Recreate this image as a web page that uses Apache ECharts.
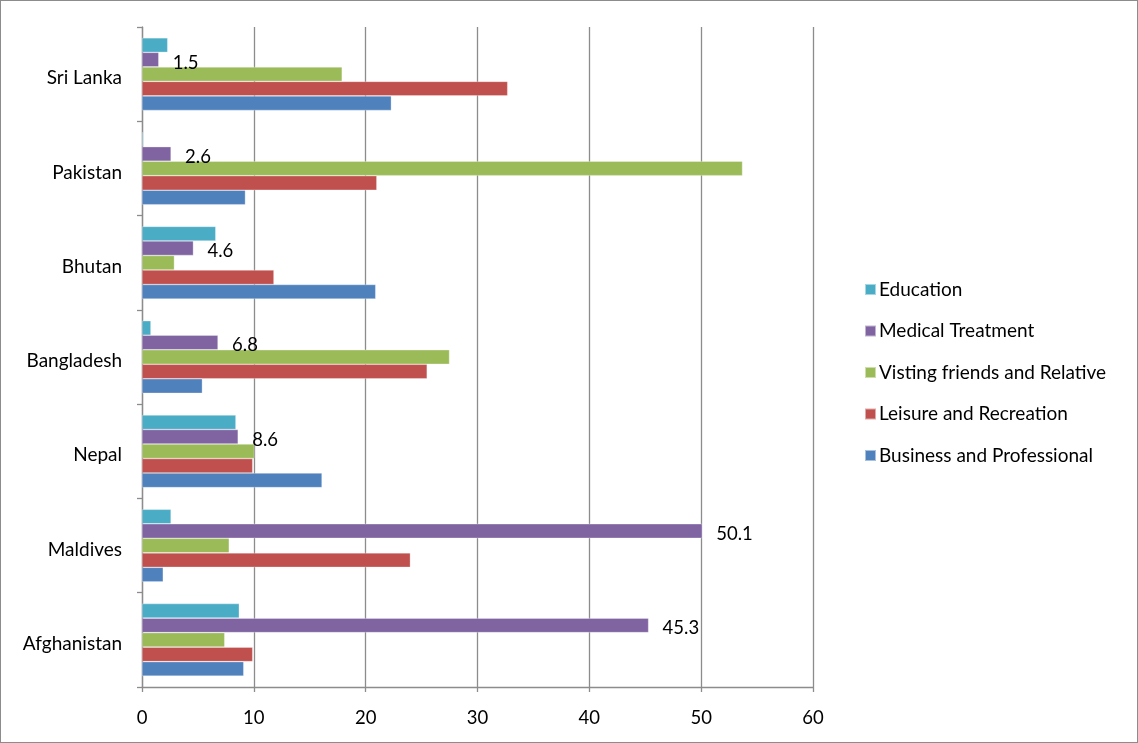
<!DOCTYPE html>
<html><head><meta charset="utf-8">
<script src="https://cdn.jsdelivr.net/npm/echarts@6/dist/echarts.min.js"></script>
<style>
html,body{margin:0;padding:0;background:#fff;}
#c{width:1136px;height:741px;border:1px solid #8c8c8c;}
</style></head>
<body><div id="c"></div>
<script>
const categories = ['Afghanistan','Maldives','Nepal','Bangladesh','Bhutan','Pakistan','Sri Lanka'];
const seriesNames = ['Education','Medical Treatment','Visting friends and Relative','Leisure and Recreation','Business and Professional'];
const education = [8.7, 2.6, 8.4, 0.8, 6.6, 0.1, 2.3];
const medical   = [45.3, 50.1, 8.6, 6.8, 4.6, 2.6, 1.5];
const visiting  = [7.4, 7.8, 10.05, 27.5, 2.9, 53.7, 17.9];
const leisure   = [9.9, 24.0, 9.9, 25.5, 11.8, 21.0, 32.7];
const business  = [9.1, 1.9, 16.1, 5.4, 20.9, 9.25, 22.3];
const xTicks = [0,10,20,30,40,50,60];

const colors = ['#4BACC6','#8064A2','#9BBB59','#C0504D','#4F81BD'];
const values = [education, medical, visiting, leisure, business];
const FONT = 'Lato';

const chart = echarts.init(document.getElementById('c'));
const series = values.map((v,i)=>({
  name: seriesNames[i],
  type: 'bar',
  data: v,
  barGap: '0%',
  barCategoryGap: '23%',
  itemStyle: {color: colors[i], borderColor: 'rgba(255,255,255,0.5)', borderWidth: 0.6},
  label: i===1 ? {show:true, position:'right', distance:14, color:'#000', fontSize:18.5, fontFamily:FONT,
     formatter: p => '{a|' + p.value.toFixed(1) + '}',
     rich:{a:{fontSize:18.5, fontFamily:FONT, color:'#000', padding:[6,0,0,0]}}} : {show:false},
  emphasis:{disabled:true}
}));
chart.setOption({
  animation:false,
  textStyle:{fontFamily:FONT},
  color: colors,
  grid:{left:141, right:324, top:26, bottom:55, containLabel:false},
  xAxis:{type:'value', min:0, max:60, interval:10,
    axisLine:{show:true, lineStyle:{color:'#8c8c8c', width:1.3}},
    axisTick:{show:true, length:5, lineStyle:{color:'#8c8c8c', width:1.3}},
    axisLabel:{color:'#000', fontSize:18.5, margin:22, fontFamily:FONT,
      formatter: v => xTicks.indexOf(v) >= 0 ? String(v) : ''},
    splitLine:{show:true, lineStyle:{color:'#8c8c8c', width:1.3}}},
  yAxis:{type:'category', data:categories, boundaryGap:true,
    axisLine:{show:true, lineStyle:{color:'#8c8c8c', width:1.3}},
    axisTick:{show:true, length:5, alignWithLabel:false, lineStyle:{color:'#8c8c8c', width:1.3}},
    axisLabel:{color:'#000', fontSize:19, margin:20, fontFamily:FONT,
      formatter: v => '{a|' + v + '}',
      rich:{a:{fontSize:19, fontFamily:FONT, color:'#000', padding:[8,0,0,0]}}}},
  legend:{orient:'vertical', left:858, top:274, itemGap:22.5, itemWidth:11, itemHeight:11,
    icon:'rect', data: seriesNames.slice(),
    textStyle:{color:'#000', fontSize:19, fontFamily:FONT, padding:[0,0,0,-2]}},
  series: series
});
</script></body></html>
